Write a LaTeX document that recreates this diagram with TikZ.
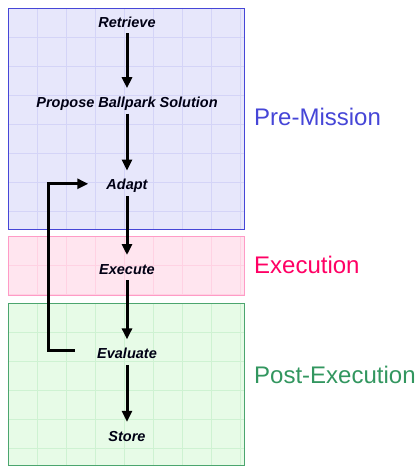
\documentclass[tikz,border=0pt]{standalone}
\usepackage{fontspec}
\setsansfont{Liberation Sans}
\usepackage{tikz}
\usetikzlibrary{arrows.meta,positioning}
\definecolor{premblue}{RGB}{70,70,215}
\definecolor{premfill}{RGB}{231,231,251}
\definecolor{premgrid}{RGB}{212,212,247}
\definecolor{execpink}{RGB}{255,155,198}
\definecolor{execfill}{RGB}{255,229,239}
\definecolor{execgrid}{RGB}{255,210,227}
\definecolor{execlabel}{RGB}{255,0,100}
\definecolor{postgreen}{RGB}{75,165,110}
\definecolor{postfill}{RGB}{231,251,231}
\definecolor{postgrid}{RGB}{206,242,210}
\definecolor{postlabel}{RGB}{50,150,95}

\begin{document}
\begin{tikzpicture}[
    x=1pt, y=-1pt,
    stepnode/.style={inner sep=0pt, text height=11pt, text depth=3pt, text=black!92!blue,
        font=\sffamily\bfseries\itshape\fontsize{14.5}{17}\selectfont},
    phase/.style={anchor=base west, inner sep=0pt, font=\sffamily\fontsize{24}{28}\selectfont},
    flow/.style={-{Triangle[length=11pt,width=10pt]}, line width=3pt, shorten >=8pt, shorten <=3pt},
]
    \useasboundingbox (0,0) rectangle (419,466);

    % Pre-Mission zone
    \fill[premfill] (8,8) rectangle (244,229);
    \draw[premgrid, shift={(8,8)}] (0,221) grid[step=29pt] (236,0);
    \draw[premblue, line width=1pt] (8,8) rectangle (244,229);

    % Execution zone
    \fill[execfill] (8,236) rectangle (244,295);
    \draw[execgrid, shift={(8,236)}] (0,59) grid[step=29pt] (236,0);
    \draw[execpink, line width=1pt] (8,236) rectangle (244,295);

    % Post-Execution zone
    \fill[postfill] (8,303) rectangle (244,465);
    \draw[postgrid, shift={(8,303)}] (0,162) grid[step=29pt] (236,0);
    \draw[postgreen, line width=1pt] (8,303) rectangle (244,465);

    % Steps
    \node[stepnode] (retrieve) at (127,23) {Retrieve};
    \node[stepnode, below=66pt of retrieve] (propose) {Propose Ballpark Solution};
    \node[stepnode, below=68pt of propose] (adapt) {Adapt};
    \node[stepnode, below=70pt of adapt] (execute) {Execute};
    \node[stepnode, below=70pt of execute] (evaluate) {Evaluate};
    \node[stepnode, below=68pt of evaluate] (store) {Store};

    % Phase labels
    \node[phase, text=premblue] (premlabel) at (254,125) {Pre-Mission};
    \node[phase, text=execlabel] (execlabel) at (254,273) {Execution};
    \node[phase, text=postlabel] (postlabel) at (254,383) {Post-Execution};

    % Arrows
    \draw[flow] (retrieve) -- (propose);
    \draw[flow] (propose) -- (adapt);
    \draw[flow] (adapt) -- (execute);
    \draw[flow] (execute) -- (evaluate);
    \draw[flow] (evaluate) -- (store);

    % Feedback loop
    \coordinate (loopcorner) at (48,349);
    \draw[flow, shorten <=22pt, shorten >=18pt] ([yshift=4pt]evaluate.west) -- ([yshift=4pt]evaluate.west -| loopcorner) |- ([yshift=2pt]adapt.west);
\end{tikzpicture}
\end{document}
